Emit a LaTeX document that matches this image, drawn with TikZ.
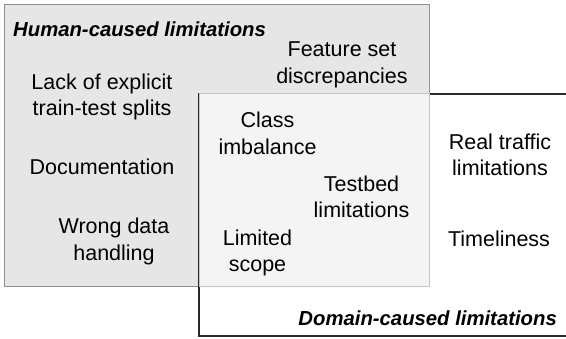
\documentclass[tikz,border=0pt]{standalone}
\usepackage{fontspec}
\setmainfont{Liberation Sans}
\definecolor{humanfill}{HTML}{E6E6E6}
\definecolor{humanline}{HTML}{909090}
\definecolor{overlapfill}{HTML}{F4F4F4}
\definecolor{overlapline}{HTML}{C4C4C4}
\definecolor{domainline}{HTML}{2A2A2A}
\begin{document}
\begin{tikzpicture}[x=1pt,y=-1pt,
  lbl/.style={font=\fontsize{21.5}{26.5}\selectfont, align=center, inner sep=0pt, anchor=base},
  ttl/.style={font=\fontsize{20.3}{24}\selectfont\bfseries\itshape, inner sep=0pt}]
\useasboundingbox (0,0) rectangle (566,338);
% regions
\fill[white] (0,0) rectangle (566,338);
\draw[humanline, fill=humanfill, line width=1pt] (4,4) rectangle (429,286);
\coordinate (dtr) at (567,94);
\coordinate (dtl) at (199,94);
\coordinate (dbl) at (199,336);
\coordinate (dbr) at (567,336);
\draw[domainline, line width=1.3pt] (dtr) -- (dtl) -- (dbl) -- (dbr);
\draw[overlapline, fill=overlapfill, line width=1pt] (199,93.5) rectangle (429,286);
% titles
\node[ttl, anchor=base west] (htitle) at (13,36.5) {Human-caused limitations};
\node[ttl, anchor=base east] (dtitle) at (557,325) {Domain-caused limitations};
% labels (base anchor = baseline of last line)
\node[lbl] (feat) at (342,83.3) {Feature set\\discrepancies};
\node[lbl] (lack) at (102,115.5) {Lack of explicit\\train-test splits};
\node[lbl] (doc) at (102,174.3) {Documentation};
\node[lbl] (wrong) at (114,260) {Wrong data\\handling};
\node[lbl] (class) at (267.5,154) {Class\\imbalance};
\node[lbl] (testbed) at (361.5,217.5) {Testbed\\limitations};
\node[lbl] (scope) at (257.5,271.7) {Limited\\scope};
\node[lbl] (real) at (500,175.5) {Real traffic\\limitations};
\node[lbl] (time) at (499,246.7) {Timeliness};
\end{tikzpicture}
\end{document}
